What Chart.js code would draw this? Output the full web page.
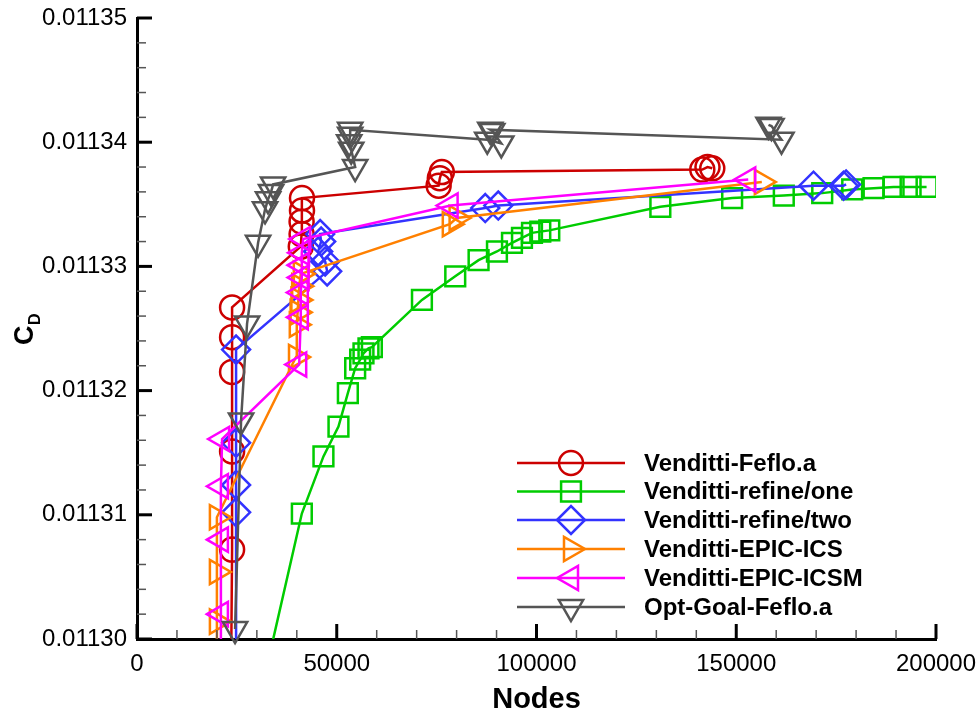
<!DOCTYPE html>
<html>
<head>
<meta charset="utf-8">
<script src="https://cdn.jsdelivr.net/npm/chart.js@4.4.1/dist/chart.umd.min.js"></script>
<style>
  html, body { margin: 0; padding: 0; background: #fff; }
  canvas { display: block; }
</style>
</head>
<body>
<canvas id="chart" width="977" height="715"></canvas>
<script>
// series labels and styles
const seriesNames = [
  "Venditti-Feflo.a",
  "Venditti-refine/one",
  "Venditti-refine/two",
  "Venditti-EPIC-ICS",
  "Venditti-EPIC-ICSM",
  "Opt-Goal-Feflo.a",
];
const seriesColors = ["#cc0000", "#00cc00", "#3333ff", "#ff8000", "#ff00ff", "#555555"];
const seriesMarkers = ["circle", "rect", "rectRot", "triangle", "triangle", "triangle"];
const markerRotation = [0, 0, 0, 90, 270, 180];
const markerRadius = [12, 14, 14, 14, 14, 14];

// Venditti-Feflo.a
const fefloNodes = [23500, 23800, 23800, 23800, 23800, 23800, 41000, 41200, 41200, 41300, 41300, 75500, 75800, 76300, 141500, 142800, 144000];
const fefloCd = [0.011295, 0.0113072, 0.0113151, 0.0113215, 0.0113243, 0.0113267, 0.0113316, 0.0113326, 0.0113336, 0.0113345, 0.0113355, 0.0113365, 0.0113371, 0.0113376, 0.0113378, 0.011338, 0.0113379];

// Venditti-refine/one
const refineOneNodes = [27000, 41260, 46670, 50430, 52780, 54610, 55860, 56690, 57940, 58790, 71320, 79660, 85500, 90100, 93860, 96360, 98870, 100950, 103200, 131000, 148970, 161900, 171520, 179030, 184370, 189380, 193640, 197640];
const refineOneCd = [0.01129, 0.0113101, 0.0113147, 0.0113171, 0.0113198, 0.0113218, 0.0113225, 0.011323, 0.0113234, 0.0113235, 0.0113273, 0.0113292, 0.0113305, 0.0113312, 0.0113319, 0.0113323, 0.0113327, 0.0113328, 0.0113329, 0.0113348, 0.0113355, 0.0113357, 0.0113359, 0.0113362, 0.0113363, 0.0113364, 0.0113364, 0.0113364];

// Venditti-refine/two
const refineTwoNodes = [24800, 24800, 24800, 24800, 24800, 47600, 47100, 45340, 46090, 45840, 87170, 90430, 169340, 176850, 177500];
const refineTwoCd = [0.011295, 0.0113102, 0.0113124, 0.0113158, 0.0113233, 0.0113296, 0.0113304, 0.0113312, 0.011332, 0.0113326, 0.0113347, 0.0113349, 0.0113365, 0.0113365, 0.0113366];

// Venditti-EPIC-ICS
const icsNodes = [20000, 20000, 20000, 20000, 39800, 40000, 40200, 40400, 40600, 41000, 78300, 80000, 156400];
const icsCd = [0.011295, 0.0113014, 0.0113054, 0.0113098, 0.0113227, 0.0113253, 0.0113263, 0.0113273, 0.0113284, 0.0113294, 0.0113334, 0.0113339, 0.0113368];

// Venditti-EPIC-ICSM
const icsmNodes = [21000, 21000, 21000, 21000, 21300, 40600, 41000, 41000, 41200, 41200, 41300, 41600, 78500, 153000];
const icsmCd = [0.011295, 0.011302, 0.011308, 0.0113123, 0.0113161, 0.0113221, 0.0113259, 0.0113279, 0.0113291, 0.0113301, 0.0113311, 0.0113322, 0.0113349, 0.011337];

// Opt-Goal-Feflo.a
const goalNodes = [24550, 26050, 27550, 30310, 32060, 32810, 33570, 34070, 54610, 53610, 53110, 53360, 53360, 87670, 91180, 88930, 88430, 161320, 158820, 158070];
const goalCd = [0.0113008, 0.0113176, 0.0113254, 0.0113319, 0.0113346, 0.0113354, 0.011336, 0.0113366, 0.011338, 0.0113394, 0.01134, 0.0113406, 0.011341, 0.0113402, 0.0113399, 0.0113409, 0.011341, 0.0113402, 0.0113413, 0.0113414];

// axis ranges and ticks
const xMin = 0, xMax = 200000, xStep = 50000, xMinor = 10000;
const yMin = 0.0113, yMax = 0.01135, yStep = 0.00001, yMinor = 0.000002;

const allNodes = [fefloNodes, refineOneNodes, refineTwoNodes, icsNodes, icsmNodes, goalNodes];
const allCd = [fefloCd, refineOneCd, refineTwoCd, icsCd, icsmCd, goalCd];

const FONT = "'Liberation Sans', Arial, sans-serif";

const datasets = seriesNames.map((name, i) => ({
  label: name,
  data: allNodes[i].map((x, k) => ({ x, y: allCd[i][k] })),
  borderColor: seriesColors[i],
  backgroundColor: "rgba(0,0,0,0)",
  borderWidth: 2.5,
  pointStyle: seriesMarkers[i],
  pointRotation: markerRotation[i],
  pointRadius: markerRadius[i],
  pointBorderWidth: 2.5,
  pointBorderColor: seriesColors[i],
  pointBackgroundColor: "rgba(0,0,0,0)",
  tension: 0,
  order: 5 - i,
  clip: i === 5 ? false : undefined,
}));

// inward ticks on left and bottom axes
const tickPlugin = {
  id: "inwardTicks",
  afterDraw(chart) {
    const { ctx, chartArea, scales } = chart;
    ctx.save();
    const nX = Math.round((xMax - xMin) / xMinor);
    for (let i = 0; i <= nX; i++) {
      const px = scales.x.getPixelForValue(xMin + i * xMinor);
      const major = i % 5 === 0;
      ctx.beginPath();
      ctx.strokeStyle = major ? "#000" : "#555";
      ctx.lineWidth = major ? 3 : 1.5;
      ctx.moveTo(px, chartArea.bottom);
      ctx.lineTo(px, chartArea.bottom - (major ? 15 : 9));
      ctx.stroke();
    }
    const nY = Math.round((yMax - yMin) / yMinor);
    for (let i = 0; i <= nY; i++) {
      const py = scales.y.getPixelForValue(yMin + i * yMinor);
      const major = i % 5 === 0;
      ctx.beginPath();
      ctx.strokeStyle = major ? "#000" : "#555";
      ctx.lineWidth = major ? 3 : 1.5;
      ctx.moveTo(chartArea.left, py);
      ctx.lineTo(chartArea.left + (major ? 15 : 9), py);
      ctx.stroke();
    }
    ctx.restore();
  },
};

// axis titles (C_D with subscript) and legend box
const textPlugin = {
  id: "titlesAndLegend",
  afterDraw(chart) {
    const { ctx, chartArea } = chart;
    ctx.save();
    ctx.fillStyle = "#000";
    ctx.textAlign = "center";
    ctx.textBaseline = "alphabetic";
    ctx.font = "bold 29px " + FONT;
    ctx.fillText("Nodes", (chartArea.left + chartArea.right) / 2, 708);

    ctx.save();
    ctx.translate(0, 345);
    ctx.rotate(-Math.PI / 2);
    ctx.textAlign = "left";
    ctx.font = "bold 27px " + FONT;
    ctx.fillText("C", 0, 33);
    ctx.font = "bold 16px " + FONT;
    ctx.fillText("D", 20, 40);
    ctx.restore();

    // legend
    const lx0 = 517, lx1 = 625, mx = 571, tx = 644;
    const rowY = [463, 491.5, 520, 549, 578, 607];
    seriesNames.forEach((name, i) => {
      const y = rowY[i];
      ctx.beginPath();
      ctx.strokeStyle = seriesColors[i];
      ctx.lineWidth = 2.5;
      ctx.moveTo(lx0, y);
      ctx.lineTo(lx1, y);
      ctx.stroke();
      ctx.strokeStyle = seriesColors[i];
      ctx.fillStyle = "rgba(0,0,0,0)";
      Chart.helpers.drawPoint(ctx, {
        pointStyle: seriesMarkers[i],
        rotation: markerRotation[i],
        radius: markerRadius[i],
        borderWidth: 2.5,
      }, mx, y);
      ctx.fillStyle = "#000";
      ctx.font = "bold 24px " + FONT;
      ctx.textAlign = "left";
      ctx.textBaseline = "middle";
      ctx.fillText(name, tx, y + 1);
    });
    ctx.restore();
  },
};

new Chart(document.getElementById("chart"), {
  type: "line",
  data: { datasets },
  options: {
    responsive: false,
    animation: false,
    events: [],
    layout: { padding: { top: 18, right: 41, left: 0, bottom: 0 } },
    plugins: {
      legend: { display: false },
      tooltip: { enabled: false },
    },
    scales: {
      x: {
        type: "linear",
        min: xMin,
        max: xMax,
        grid: { display: false, drawTicks: false },
        border: { display: true, color: "#000", width: 3 },
        ticks: {
          stepSize: xStep,
          padding: 11,
          color: "#000",
          maxRotation: 0,
          font: { family: FONT, size: 24 },
          callback: (v) => String(v),
        },
        afterFit: (s) => {
          s.height = 76;
          s.paddingLeft = 0;
          s.paddingRight = 0;
        },
      },
      y: {
        type: "linear",
        min: yMin,
        max: yMax,
        grid: { display: false, drawTicks: false },
        border: { display: true, color: "#000", width: 3 },
        ticks: {
          stepSize: yStep,
          padding: 10,
          color: "#000",
          font: { family: FONT, size: 24 },
          callback: (v) => v.toFixed(5),
        },
        afterFit: (s) => {
          s.width = 137;
          s.paddingTop = 0;
          s.paddingBottom = 0;
        },
      },
    },
  },
  plugins: [tickPlugin, textPlugin],
});
</script>
</body>
</html>
